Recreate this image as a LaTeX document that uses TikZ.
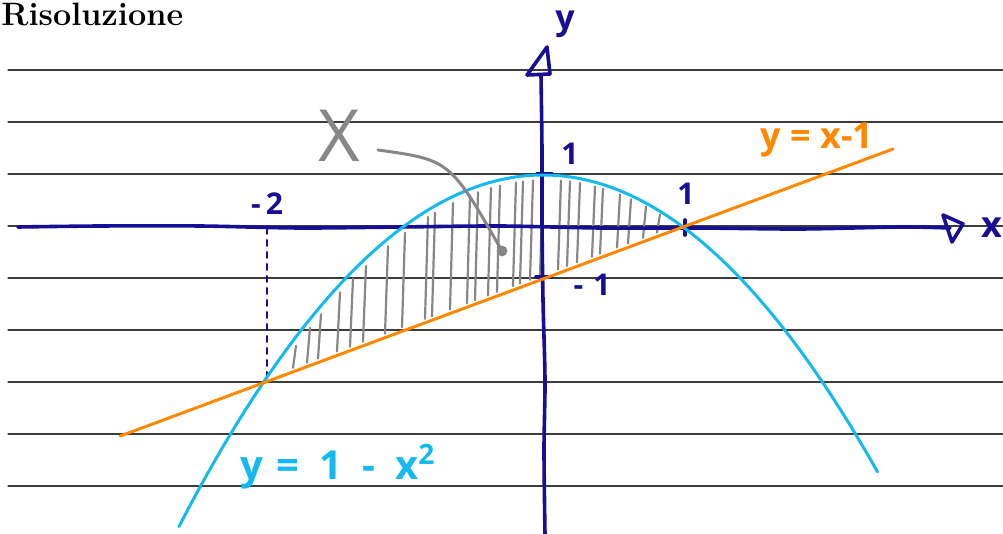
\documentclass[tikz,border=0pt]{standalone}
\usepackage{fontspec}
\newfontfamily\hand{Open Sans}
\definecolor{axisblue}{RGB}{24,14,150}
\definecolor{paracyan}{RGB}{20,185,240}
\definecolor{lineorange}{RGB}{255,136,0}
\definecolor{hatchgray}{RGB}{135,135,135}
\definecolor{rulegray}{RGB}{60,60,60}
\begin{document}
\begin{tikzpicture}[x=0.5pt,y=-0.5pt, line cap=round, line join=round,
  rule/.style={rulegray,line width=0.6pt},
  axis/.style={axisblue,line width=1.8pt},
  para/.style={paracyan,line width=1.5pt},
  oline/.style={lineorange,line width=1.5pt},
  hatch/.style={hatchgray,line width=1.1pt},
  blab/.style={axisblue,font=\hand\bfseries\fontsize{15}{17}\selectfont,inner sep=0pt},
  clab/.style={font=\hand\bfseries\fontsize{18}{20}\selectfont,inner sep=0pt}]
\useasboundingbox (0,0) rectangle (1003,534);
% title
\node[anchor=base west,inner sep=0pt,font=\bfseries\fontsize{16.2}{18}\selectfont] (title) at (1,26) {Risoluzione};
% ruled lines
\foreach \yy in {70,122,174,226,278,330,382,434,486}
  \draw[rule] (8,\yy) -- (1003,\yy);
% hatching
\foreach \px in {293,307,318,337,350,363,385,402,425,432,450,467,475,488,497,513,520,530,540,558,567,577,592,600,617,628,643,657}{
  \pgfmathsetmacro{\xx}{(\px-543)/140}
  \pgfmathsetmacro{\ytop}{227-52*(1-\xx*\xx)+5}
  \pgfmathsetmacro{\ybot}{227-52*(\xx-1)-4}
  \draw[hatch] (\px,\ybot) -- (\px+3,\ytop);
}
% x axis
\draw[axis] plot[smooth] coordinates {(18,227) (100,226) (200,226) (300,228) (400,227) (500,226) (600,228) (700,228) (800,229) (900,227) (950,228)};
\draw[axis] (943,215) -- (963,224) -- (952,242) -- cycle;
% y axis
\draw[axis] plot[smooth] coordinates {(545,534) (544,450) (545,380) (543,300) (542,220) (542,150) (541,75)};
\draw[axis] (547,47) -- (550,74) -- (527,75) -- cycle;
% ticks
\draw[axis] (537,174) -- (552,174);
\draw[axis] (536,277) -- (551,277);
\draw[axis] (685,220) -- (685,235);
% dashed drop line
\draw[axisblue,line width=1pt,dashed] (267,228) -- (267,382);
% parabola
\draw[para] plot[domain=-2.6:2.39,samples=80,smooth] ({543+140*\x},{227-52*(1-\x*\x)});
% line y=x-1
\draw[oline] plot[domain=-3.02:2.5,samples=2] ({543+140*\x},{227-52*(\x-1)});
% pointer
\node[font=\hand\fontsize{36}{40}\selectfont,text=hatchgray,inner sep=0pt] (X) at (339,136) {X};
\coordinate (dot) at (502,251);
\draw[hatchgray,line width=1.5pt] (378,150) .. controls (450,160) .. (dot);
\fill[hatchgray] (dot) circle[radius=2.7pt];
% labels
\node[blab] (one-y) at (570,154) {1};
\node[blab] (m-two) at (267,204) {-\,2};
\node[blab] (one-x) at (686,194) {1};
\node[blab] (m-one) at (592,285) {-\,\,1};
\node[blab,font=\hand\bfseries\fontsize{17}{18}\selectfont] (ylab) at (565,24) {y};
\node[blab,font=\hand\bfseries\fontsize{18}{18}\selectfont] (xlab) at (992,228) {x};
\node[clab,text=lineorange] (eqline) at (817,140) {y = x-1};
\node[clab,text=paracyan,font=\hand\bfseries\fontsize{20}{22}\selectfont] (eqpara) at (338,467) {y\,\,=\,\,\,1\,\,\,-\,\,\,x\textsuperscript{2}};
\end{tikzpicture}
\end{document}
